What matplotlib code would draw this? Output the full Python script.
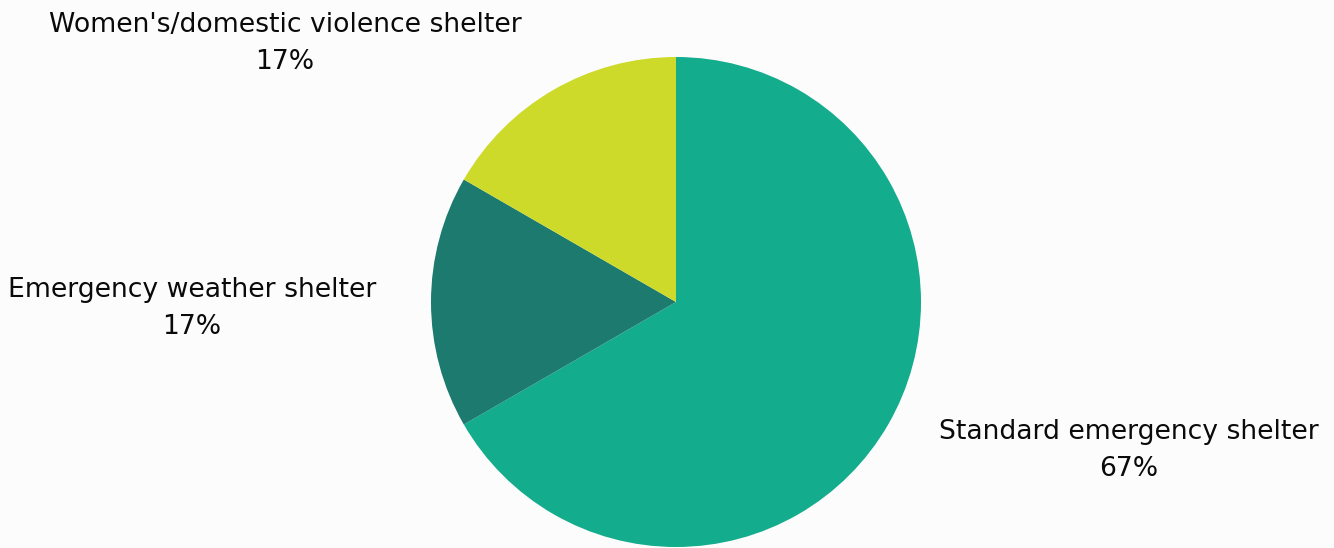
import matplotlib
matplotlib.use("Agg")
from matplotlib import pyplot as plt

labels = ["Standard emergency shelter", "Emergency weather shelter", "Women's/domestic violence shelter"]
counts = [4, 1, 1]
colors = ["#13AC8C", "#1C7A6E", "#CDDA2A"]

W, H = 1334, 548
fig = plt.figure(figsize=(W / 100, H / 100), dpi=100, facecolor="#FCFCFC")

# pie centred at (676, 302) px with radius 245 px
cx, cy, r = 676, 302, 245
ax = fig.add_axes([(cx - r) / W, (H - cy - r) / H, 2 * r / W, 2 * r / H])
ax.pie(counts, colors=colors, startangle=90, counterclock=False, radius=1,
       wedgeprops=dict(linewidth=0))
ax.set_xlim(-1, 1)
ax.set_ylim(-1, 1)
ax.axis("off")

total = sum(counts)
label_pos = [(1129, 432), (192, 290), (285, 25)]
for name, n, (x, y) in zip(labels, counts, label_pos):
    fig.text(x / W, 1 - y / H, name, ha="center", va="center",
             fontsize=19.2, family="DejaVu Sans", color="#0A0A0A")
    fig.text(x / W, 1 - (y + 37) / H, f"{round(100 * n / total)}%", ha="center", va="center",
             fontsize=19.2, family="DejaVu Sans", color="#0A0A0A")

fig.savefig("out.png", dpi=100, facecolor=fig.get_facecolor())
